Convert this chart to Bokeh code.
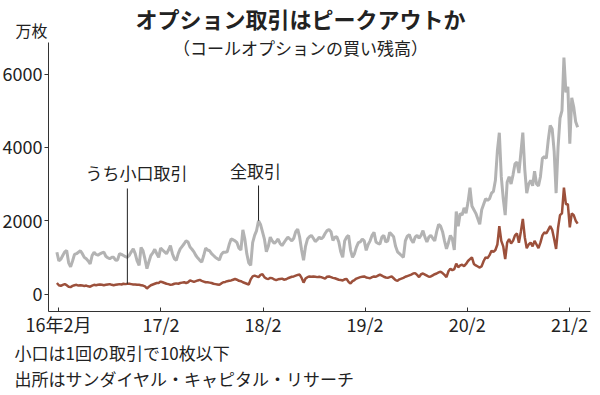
import pandas as pd
from bokeh.plotting import figure
from bokeh.models import Range1d, FixedTicker, Label, ColumnDataSource
from bokeh.embed import file_html
from bokeh.resources import INLINE

# ---- data (万枚, weekly) ----
start_date = "2016-01-26"

gray_a = [1140, 900, 950, 1050, 1150, 1190, 850, 740, 900, 1080,
          1100, 1140, 1180, 1100, 1000, 960, 900, 820, 1050, 1140,
          1080, 1060, 1095, 1120, 1140, 1030, 990, 960, 1000, 1000,
          920, 930, 1100, 1080, 1050, 1020, 1000, 1060, 1150, 1230,
          1100, 900, 780, 1270, 1180, 950, 690, 880, 1050, 1120,
          1220, 1100, 1000, 1250, 1200, 1150, 1100, 1200, 1320, 1100,
          960, 920, 1100, 1230, 1300, 1370, 1450, 1420]
gray_b = [1280, 1220, 1150, 1050, 980, 920, 870, 1050, 1250, 1200,
          1180, 1100, 1050, 1000, 960, 930, 1080, 1140, 1140, 1150,
          1350, 1500, 1480, 1450, 1400, 1250, 1200, 1750, 1500, 1100,
          850, 780, 1400, 1600, 1730, 2000, 1900, 1700, 1500, 1150,
          1300, 1550, 1450, 1380, 1430, 1500, 1380, 1320, 1400, 1480,
          1550, 1500, 1450, 1520, 1700, 1770, 1550, 1200, 920, 1300,
          1500, 1560, 1600, 1520, 1430, 1480, 1550]
gray_c = [1500, 1550, 1650, 1730, 1760, 1700, 1460, 1550, 1560, 1420,
          1150, 1000, 1450, 1550, 1600, 1200, 1000, 1100, 1280, 1400,
          1420, 1500, 1450, 1190, 1350, 1450, 1600, 1680, 1420, 1380,
          1360, 1550, 1600, 1420, 1450, 1680, 1620, 1560, 1300, 1150,
          1100, 1050, 1000, 1450, 1580, 1620, 1480, 1400, 1550, 1600,
          1520, 1600, 1730, 1550, 1420, 1550, 1600, 1520, 1450, 1700,
          1900, 1850, 1700, 1450, 1230, 1400, 1600, 1500, 1200, 2250]
gray_d = [1850, 2200, 2150, 2350, 2200, 2500, 2900, 2400, 2300, 2200,
          2050, 1900, 2300, 2450, 2600, 2550, 2600, 2750, 2800, 3100,
          3900, 4400, 3200, 2600, 2150, 3050, 3200, 3000, 3250, 3550,
          3600, 3300, 3850, 4400, 3400, 2750, 3000, 3100, 2950, 3350,
          3000, 2950, 3200, 3700, 3750, 3700, 4200, 4600, 4500, 3900,
          2750, 4000, 4800, 5000, 6450, 5500, 5650, 4100, 5350, 5100,
          4700, 4550]

small_a = [300, 240, 220, 250, 270, 240, 200, 190, 220, 240,
           250, 230, 240, 230, 220, 230, 210, 200, 230, 250,
           240, 250, 260, 250, 240, 250, 260, 270, 250, 240,
           250, 260, 270, 260, 280, 270, 280, 280, 270, 260,
           260, 250, 250, 240, 230, 210, 150, 200, 240, 260,
           280, 300, 300, 340, 320, 300, 280, 270, 250, 260,
           280, 290, 280, 300, 310, 320, 300, 320]
small_b = [370, 350, 330, 350, 370, 385, 360, 340, 320, 320,
           310, 300, 280, 270, 260, 250, 290, 320, 330, 350,
           360, 370, 390, 410, 390, 360, 350, 320, 300, 280,
           260, 400, 480, 500, 480, 460, 520, 540, 460, 420,
           410, 440, 430, 400, 380, 400, 410, 420, 390, 400,
           430, 450, 470, 480, 500, 520, 530, 440, 310, 420,
           460, 480, 470, 480, 470, 460, 470]
small_c = [460, 440, 420, 470, 480, 460, 440, 430, 410, 390,
           380, 370, 400, 410, 330, 290, 350, 380, 420, 440,
           460, 470, 480, 450, 440, 430, 460, 480, 470, 500,
           530, 500, 470, 450, 440, 460, 480, 430, 380, 360,
           400, 420, 440, 470, 490, 510, 530, 560, 570, 520,
           460, 540, 560, 530, 500, 470, 480, 510, 540, 560,
           590, 610, 570, 520, 460, 620, 690, 650, 680, 830]
small_d = [730, 780, 800, 760, 820, 900, 950, 1000, 820, 780,
           750, 720, 760, 900, 1000, 980, 1060, 1180, 1150, 1200,
           1350, 1850, 1450, 1300, 950, 1400, 1500, 1380, 1450, 1600,
           1650, 1400, 1700, 2050, 1550, 1250, 1350, 1400, 1300, 1450,
           1350, 1250, 1400, 1600, 1680, 1650, 1750, 1850, 1750, 1500,
           1230, 1800, 2150, 2200, 2900, 2450, 2450, 1820, 2200, 2150,
           2000, 1920]

tick_dates = ["2016-02-01", "2017-02-01", "2018-02-01",
              "2019-02-01", "2020-02-01", "2021-02-01"]
tick_labels = ["16年2月", "17/2", "18/2", "19/2", "20/2", "21/2"]
y_ticks = [0, 2000, 4000, 6000]

title_text = "オプション取引はピークアウトか"
subtitle_text = "（コールオプションの買い残高）"
unit_text = "万枚"
label_small = "うち小口取引"
label_all = "全取引"
note1 = "小口は1回の取引で10枚以下"
note2 = "出所はサンダイヤル・キャピタル・リサーチ"

# ---- build ----
gray = gray_a + gray_b + gray_c + gray_d
small = small_a + small_b + small_c + small_d
dates = pd.date_range(start_date, periods=len(gray), freq="7D")
xs = [int(v) for v in (dates.asi8 // 10**6)]
src = ColumnDataSource(dict(x=xs, gray=gray, small=small))

tick_ms = [int(t) for t in (pd.to_datetime(tick_dates).asi8 // 10**6)]

# axis extents (data) and where they sit in the picture (px)
AX0 = int(pd.Timestamp("2015-12-27").value // 10**6)
AX1 = int(pd.Timestamp("2021-04-17").value // 10**6)
AY0, AY1 = -477, 6860
FL, FR, FT, FB = 48, 590, 42, 311

W, H = 600, 395
OX, OY = 0, 0            # canvas origin in the picture
kx = (AX1 - AX0) / (FR - FL)
ky = (AY1 - AY0) / (FB - FT)
x_start = AX0 - (FL - OX) * kx
x_end = AX1 + (OX + W - FR) * kx
y_start = AY0 - (OY + H - FB) * ky
y_end = AY1 + (FT - OY) * ky


def px_x(px):
    return AX0 + (px - FL) * kx


def px_y(py):
    return AY0 + (FB - py) * ky


p = figure(width=W, height=H, output_backend="svg", toolbar_location=None,
           x_range=Range1d(x_start, x_end), y_range=Range1d(y_start, y_end),
           min_border_left=0, min_border_right=0,
           min_border_top=0, min_border_bottom=0)
p.outline_line_color = None
p.grid.visible = False
p.background_fill_color = "white"
p.border_fill_color = "white"

JP = "Noto Sans CJK JP"
NUM = "'Liberation Sans Narrow', 'Noto Sans CJK JP'"

p.xaxis.fixed_location = AY0
p.xaxis.bounds = (AX0, AX1)
p.yaxis.fixed_location = AX0
p.yaxis.bounds = (AY0, AY1)

p.xaxis.ticker = FixedTicker(ticks=tick_ms)
p.xaxis.major_label_overrides = {t: l for t, l in zip(tick_ms, tick_labels)}
p.xaxis.minor_tick_line_color = None
p.xaxis.major_tick_in = 4
p.xaxis.major_tick_out = 0
p.xaxis.major_label_standoff = -1
p.yaxis.ticker = FixedTicker(ticks=y_ticks)
p.yaxis.minor_tick_line_color = None
p.yaxis.major_tick_in = 0
p.yaxis.major_tick_out = 4
p.yaxis.major_label_standoff = 2
for ax in (p.xaxis, p.yaxis):
    ax.axis_line_color = "#333333"
    ax.major_tick_line_color = "#333333"
    ax.major_label_text_font = NUM
    ax.major_label_text_font_size = "18px"
    ax.major_label_text_color = "#222222"

p.line("x", "gray", source=src, line_color="#b3b3b3", line_width=3)
p.line("x", "small", source=src, line_color="#9c503b", line_width=2.5)

# leader lines
i_small = 36
i_all = 103
p.segment(x0=[xs[i_small], xs[i_all]], y0=[small[i_small], gray[i_all]],
          x1=[xs[i_small], xs[i_all]], y1=[px_y(188), px_y(185)],
          line_color="#222222", line_width=1)


def add_label(text, px, py, size, align="center", bold=False):
    p.add_layout(Label(x=px_x(px), y=px_y(py), text=text,
                       text_font=JP, text_font_size=size,
                       text_align=align, text_baseline="middle",
                       text_font_style="bold" if bold else "normal",
                       text_color="#222222"))


add_label(title_text, 300, 17, "22px", bold=True)
add_label(subtitle_text, 300, 47, "17px")
add_label(unit_text, 31, 29, "16px")
add_label(label_small, 136, 172, "17px")
add_label(label_all, 255, 170, "17px")
add_label(note1, 14, 352, "17px", align="left")
add_label(note2, 14, 378, "17px", align="left")

open("out.html", "w").write(file_html(p, INLINE))
